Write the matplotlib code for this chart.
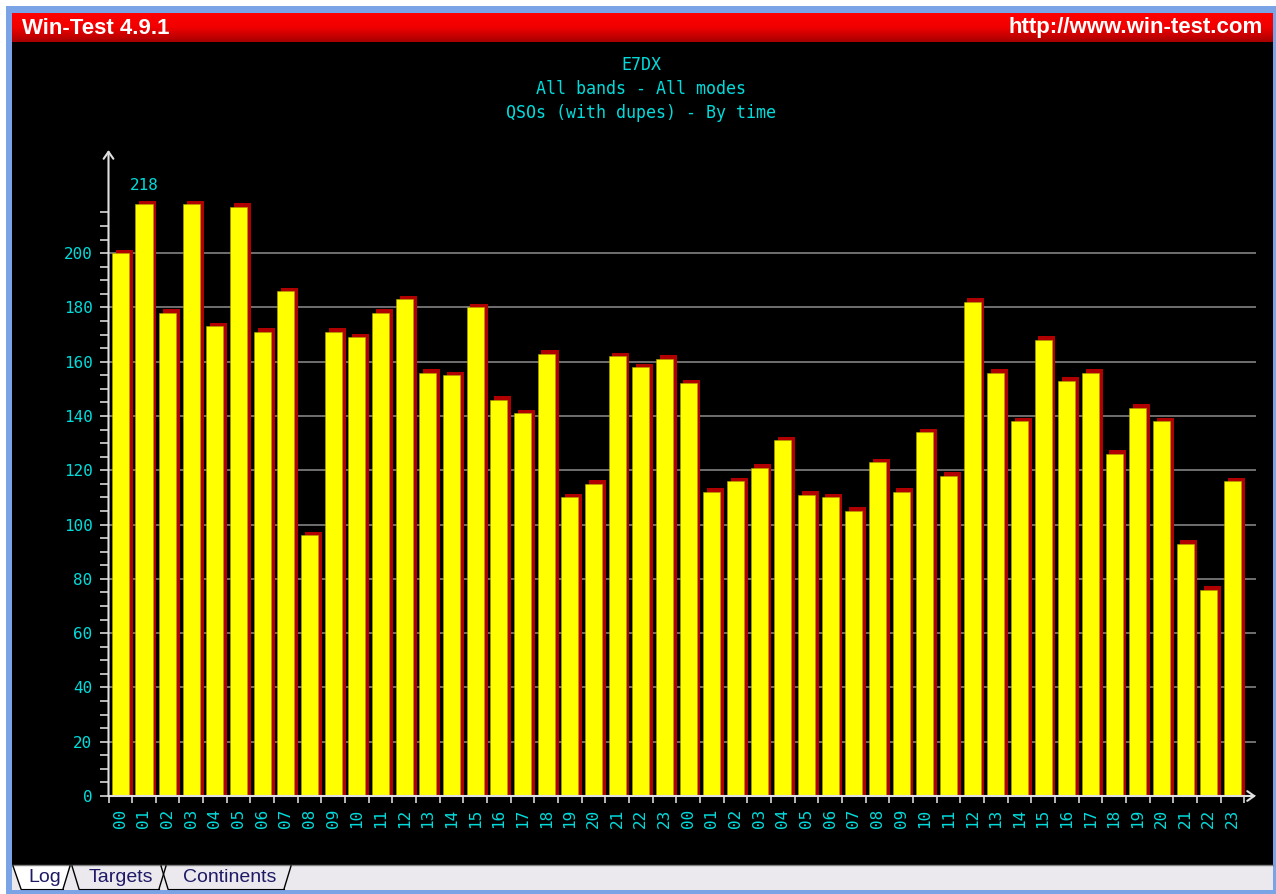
import numpy as np
import matplotlib
matplotlib.use("Agg")
import matplotlib.pyplot as plt
from matplotlib.patches import Rectangle, Polygon

# QSOs per hour over the 48 hours of the contest
hours = ["%02d" % h for h in range(24)] * 2
qsos = [200, 218, 178, 218, 173, 217, 171, 186, 96, 171, 169, 178,
        183, 156, 155, 180, 146, 141, 163, 110, 115, 162, 158, 161,
        152, 112, 116, 121, 131, 111, 110, 105, 123, 112, 134, 118,
        182, 156, 138, 168, 153, 156, 126, 143, 138, 93, 76, 116]
title_lines = ["E7DX", "All bands - All modes", "QSOs (with dupes) - By time"]
tabs = ["Log", "Targets", "Continents"]

W, H = 1276, 894
CYAN = "#00dcdc"
MONO = ["DejaVu Sans Mono"]

fig = plt.figure(figsize=(W / 100, H / 100), dpi=100, facecolor="white")

# ---- window frame, drawn in pixel coords
fr = fig.add_axes([0, 0, 1, 1])
fr.set_xlim(0, W)
fr.set_ylim(H, 0)
fr.axis("off")
fr.add_patch(Rectangle((6, 6), W - 6, H - 6, color="#7aa4e6", lw=0))
fr.add_patch(Rectangle((12, 42), 1261, 824, color="black", lw=0))
grad = np.linspace(0, 1, 50).reshape(-1, 1)
cm = matplotlib.colors.LinearSegmentedColormap.from_list("tb", ["#ff0000", "#f00000", "#a80000"])
fr.imshow(grad, cmap=cm, extent=(12, 1273, 42, 13), aspect="auto", zorder=2)
fr.text(22, 28, "Win-Test 4.9.1", color="white", fontsize=16, fontweight="bold",
        family=["Liberation Sans"], va="center", ha="left", zorder=3)
fr.text(1263, 28, "http://www.win-test.com", color="white", fontsize=16, fontweight="bold",
        family=["Liberation Sans"], va="center", ha="right", zorder=3)

# tab strip
fr.add_patch(Rectangle((12, 865), 1261, 25, color="#ebe9ee", lw=0))
fr.plot([12, 1273], [865, 865], color="#808080", lw=1)
fr.add_patch(Polygon([(13, 866), (21, 889), (63, 889), (70, 866)], closed=True,
                     facecolor="white", edgecolor="none"))
seg = [((13, 866), (21, 889)), ((63, 889), (70, 866)), ((72, 866), (79, 889)),
       ((159, 889), (166, 866)), ((161, 866), (168, 889)), ((284, 889), (291, 866))]
for (x0, y0), (x1, y1) in seg:
    fr.plot([x0, x1], [y0, y1], color="black", lw=1)
fr.plot([21, 63], [889, 889], color="black", lw=0.8)
fr.plot([79, 159], [889, 889], color="black", lw=0.8)
fr.plot([168, 284], [889, 889], color="black", lw=0.8)
for name, xc in zip(tabs, [45, 121, 230]):
    fr.text(xc, 878, name, color="#1e1a66", fontsize=14, ha="center", va="center",
            family=["Liberation Sans Narrow", "Liberation Sans"])

# title
for i, line in enumerate(title_lines):
    fr.text(641, 65 + i * 24, line, color=CYAN, fontsize=12, family=MONO,
            ha="center", va="center")

# ---- chart
left, right, top, bottom = 108.5, 1256, 150, 796
ax = fig.add_axes([left / W, (H - bottom) / H, (right - left) / W, (bottom - top) / H])
ax.set_facecolor("none")
ax.set_xlim(-0.5, 48.0)
ax.set_ylim(0, 238)

x = np.arange(len(qsos))
v = np.array(qsos)
ax.bar(x + 0.16, v + 1.3, width=0.72, color="#b00000", zorder=2)
ax.bar(x, v, width=0.72, color="#ffff00", edgecolor="#b0a000", lw=0.4, zorder=3)

imax = int(np.argmax(v))
ax.text(imax, v[imax] + 4, str(v[imax]), color=CYAN, fontsize=11.5, family=MONO,
        ha="center", va="bottom")

for s in ax.spines.values():
    s.set_visible(False)
ax.set_yticks(np.arange(0, 201, 20))
ax.set_yticks(np.arange(0, 216, 5), minor=True)
ax.yaxis.grid(True, which="major", color="#707070", lw=1.4)
ax.set_axisbelow(True)
ax.tick_params(axis="y", which="both", direction="out", length=6.5, width=1.2,
               color="#d8d8d8", labelcolor=CYAN, labelsize=11.5, pad=5)
for t in ax.get_yticklabels():
    t.set_family(MONO)

ax.set_xticks(x)
ax.set_xticklabels(hours, rotation=90, family=MONO)
ax.set_xticks(np.arange(-0.5, 48, 1), minor=True)
ax.tick_params(axis="x", which="major", length=0, labelcolor=CYAN, labelsize=11.5, pad=9)
ax.tick_params(axis="x", which="minor", direction="out", length=5, width=1.2, color="#d8d8d8")

arrow = dict(arrowstyle="->,head_length=0.5,head_width=0.35", color="#e0e0e0", lw=1.5,
             shrinkA=0, shrinkB=0)
ax.annotate("", xy=(0, 1), xytext=(0, 0), xycoords="axes fraction", arrowprops=arrow,
            annotation_clip=False)
ax.annotate("", xy=(1, 0), xytext=(0, 0), xycoords="axes fraction", arrowprops=arrow,
            annotation_clip=False)

fig.savefig("out.png", dpi=100, facecolor="white")
